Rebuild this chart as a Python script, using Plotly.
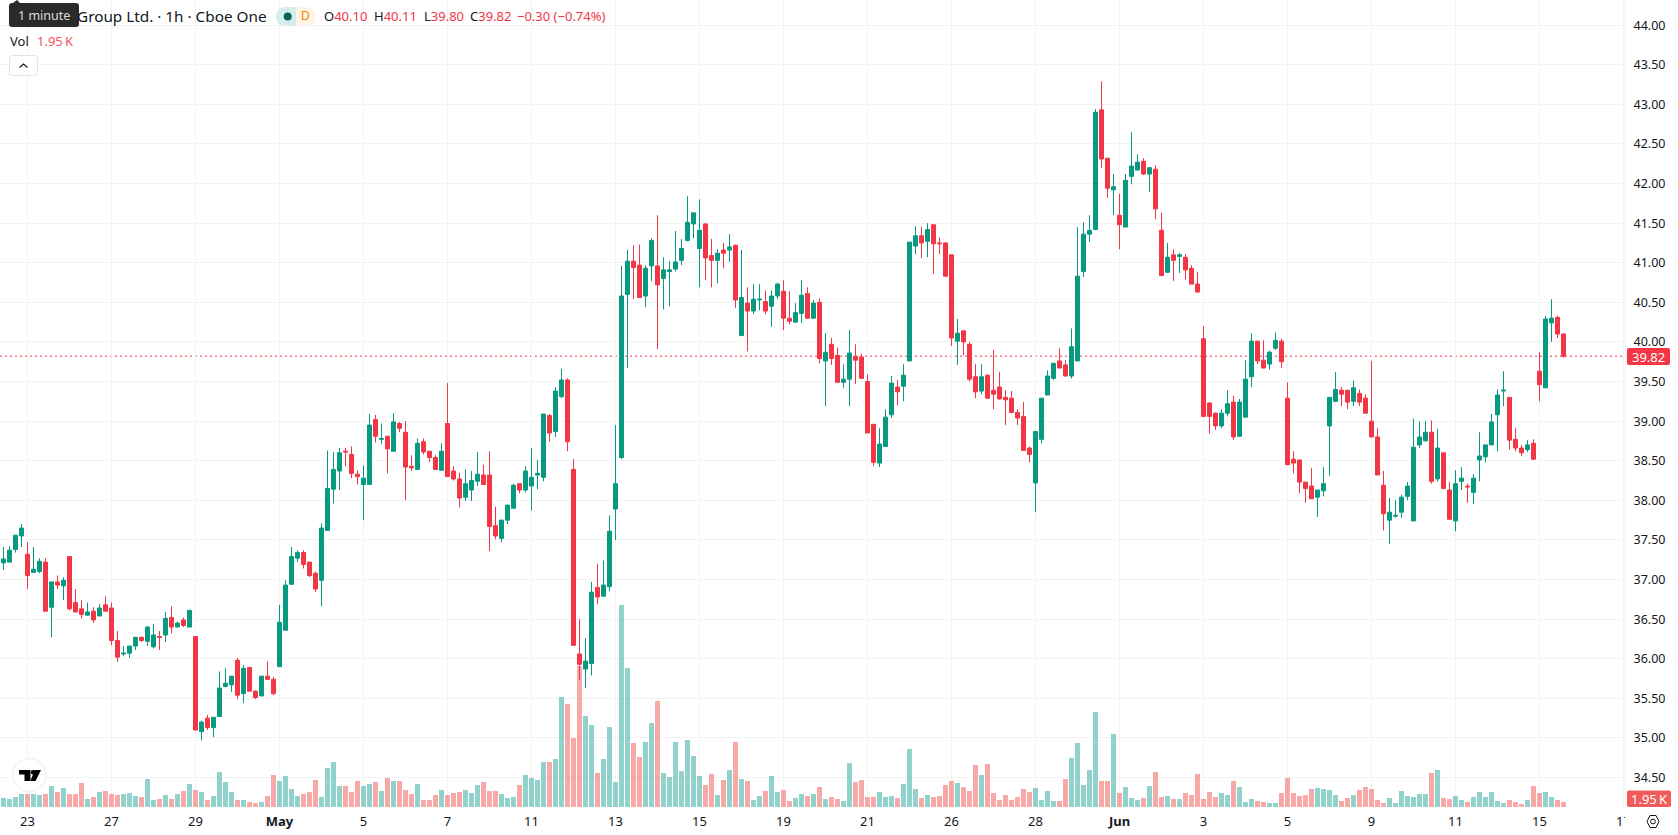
import plotly.graph_objects as go

# Hourly OHLC prices, one bar per trading hour
opens = [
    37.21,37.22,37.38,37.55,37.32,37.09,37.10,37.22,36.65,36.97,
    36.92,37.29,36.71,36.63,36.55,36.60,36.54,36.68,36.64,36.23,
    36.06,36.07,36.16,36.27,36.22,36.15,36.28,36.30,36.52,36.40,
    36.49,36.40,36.28,35.08,35.25,35.13,35.27,35.65,35.67,35.98,
    35.56,35.89,35.59,35.53,35.78,35.74,35.90,36.36,36.94,37.27,
    37.34,37.22,37.08,36.99,37.62,38.14,38.37,38.62,38.58,38.33,
    38.20,38.20,39.02,38.77,38.81,38.62,38.97,38.86,38.43,38.39,
    38.74,38.62,38.54,38.38,38.97,38.37,38.27,38.04,38.13,38.24,
    38.32,38.32,37.68,37.52,37.75,37.90,38.21,38.13,38.18,38.32,
    38.29,39.07,38.87,39.31,39.52,38.39,36.06,35.87,35.94,36.90,
    36.79,36.91,37.89,38.54,40.60,41.02,40.97,40.58,40.96,40.96,
    40.80,40.89,40.92,41.03,41.28,41.49,41.18,41.49,41.09,41.03,
    41.16,41.16,41.22,40.08,40.49,40.39,40.53,40.51,40.45,40.58,
    40.64,40.30,40.25,40.36,40.61,40.30,40.50,39.76,39.97,39.83,
    39.49,39.53,39.82,39.81,39.50,38.96,38.47,38.68,39.08,39.43,
    39.44,39.76,41.21,41.34,41.27,41.48,41.25,41.25,41.10,40.01,
    40.14,39.97,39.56,39.38,39.58,39.39,39.43,39.30,39.29,39.11,
    39.06,38.66,38.22,38.77,39.33,39.54,39.76,39.71,39.57,39.76,
    40.89,41.36,41.42,42.93,42.32,41.92,41.60,41.45,42.09,42.17,
    42.28,42.12,42.18,41.41,40.88,41.10,41.08,41.07,40.93,40.73,
    40.04,39.23,39.10,38.94,39.10,39.24,38.81,39.05,39.56,40.01,
    39.77,39.72,39.92,40.01,39.29,38.52,38.51,38.23,38.18,38.04,
    38.12,38.94,39.25,39.39,39.39,39.25,39.35,39.29,39.00,38.80,
    38.19,37.75,37.80,37.85,38.05,37.74,38.70,38.75,38.86,38.27,
    38.60,38.13,37.74,38.24,38.18,38.10,38.51,38.55,38.70,39.08,
    39.38,39.30,38.77,38.66,38.64,38.72,39.63,39.42,40.24,40.31,
    40.10,
]
highs = [
    37.41,37.42,37.56,37.70,37.47,37.41,37.27,37.27,36.97,37.05,
    37.03,37.29,36.88,36.74,36.71,36.65,36.69,36.79,36.71,36.35,
    36.16,36.16,36.27,36.28,36.41,36.44,36.35,36.59,36.66,36.47,
    36.52,36.62,36.28,35.22,35.29,35.26,35.84,35.88,35.78,36.01,
    35.92,35.89,35.60,35.78,35.97,35.77,36.68,36.99,37.41,37.37,
    37.37,37.22,37.10,37.71,38.63,38.61,38.66,38.66,38.68,38.38,
    38.44,39.09,39.08,38.97,38.81,39.10,38.99,39.00,38.57,38.78,
    38.78,38.62,38.57,38.72,39.48,38.43,38.35,38.39,38.37,38.61,
    38.45,38.62,37.92,37.75,37.94,38.21,38.21,38.43,38.66,38.51,
    39.09,39.09,39.43,39.66,39.54,38.52,36.50,36.26,36.97,37.20,
    37.24,37.81,38.95,40.96,41.16,41.22,41.23,40.97,41.31,41.60,
    41.07,41.02,41.40,41.30,41.84,41.63,41.80,41.50,41.30,41.17,
    41.25,41.36,41.23,41.16,40.69,40.73,40.73,40.65,40.65,40.75,
    40.78,40.64,40.49,40.78,40.69,40.53,40.55,40.11,40.05,39.93,
    39.72,40.15,39.97,39.85,39.59,38.96,38.91,39.15,39.57,39.52,
    39.72,41.26,41.46,41.45,41.50,41.48,41.32,41.26,41.10,40.29,
    40.14,40.00,39.72,39.72,39.59,39.90,39.62,39.39,39.38,39.15,
    39.24,38.68,38.87,39.29,39.64,39.73,39.92,39.77,40.17,41.45,
    41.51,41.60,42.94,43.29,42.32,42.12,41.87,42.12,42.65,42.37,
    42.32,42.20,42.23,41.63,41.25,41.17,41.12,41.11,40.97,40.88,
    40.20,39.24,39.11,39.15,39.39,39.32,39.28,39.77,40.11,40.01,
    40.02,39.89,40.12,40.04,39.49,38.62,38.51,38.23,38.41,38.13,
    38.42,39.30,39.62,39.43,39.39,39.51,39.40,39.34,39.76,38.91,
    38.37,38.03,38.00,38.07,38.23,39.03,39.00,39.00,39.01,38.90,
    38.60,38.23,38.38,38.42,38.21,38.33,38.86,38.70,39.09,39.40,
    39.63,39.30,38.91,38.70,38.76,38.77,39.87,40.33,40.54,40.33,
    40.11,
]
lows = [
    37.12,37.22,37.34,37.41,36.88,37.09,37.08,36.60,36.27,36.88,
    36.74,36.61,36.59,36.51,36.54,36.45,36.54,36.60,36.17,35.96,
    36.03,36.01,36.11,36.21,36.16,36.13,36.11,36.21,36.32,36.40,
    36.40,36.40,35.10,34.97,35.10,35.01,35.27,35.64,35.58,35.49,
    35.44,35.59,35.49,35.53,35.74,35.54,35.90,36.36,36.94,37.22,
    37.14,37.03,36.84,36.66,37.62,37.96,38.13,38.43,38.28,38.20,
    37.75,38.20,38.73,38.71,38.34,38.62,38.86,38.00,38.37,38.39,
    38.58,38.48,38.39,38.38,38.30,38.25,37.91,37.99,37.99,38.18,
    38.20,37.36,37.51,37.47,37.70,37.90,38.09,38.10,37.87,38.14,
    38.24,38.74,38.80,39.29,38.62,36.17,35.73,35.63,35.79,36.69,
    36.79,36.85,37.50,38.52,39.67,40.54,40.56,40.44,40.77,39.91,
    40.41,40.45,40.89,40.97,41.27,41.31,40.69,40.78,40.69,40.74,
    40.93,41.01,40.43,40.08,39.88,40.35,40.40,40.35,40.19,40.54,
    40.15,40.22,40.25,40.24,40.30,40.30,39.73,39.19,39.71,39.48,
    39.42,39.19,39.47,39.54,38.85,38.43,38.42,38.68,39.04,39.20,
    39.25,39.76,41.11,41.06,41.07,40.86,41.11,40.83,39.95,39.71,
    39.83,39.50,39.29,39.34,39.29,39.15,39.27,38.95,39.10,38.95,
    38.63,38.48,37.85,38.72,39.33,39.52,39.67,39.56,39.54,39.76,
    40.82,41.26,41.41,42.20,41.82,41.60,41.17,41.45,41.99,42.17,
    42.11,41.89,41.55,40.83,40.87,40.77,40.87,40.79,40.73,40.62,
    39.05,38.84,38.89,38.91,39.06,38.76,38.80,39.05,39.43,39.72,
    39.67,39.65,39.90,39.67,38.45,38.34,38.09,37.97,38.02,37.79,
    38.05,38.31,39.24,39.19,39.15,39.19,39.19,39.10,38.80,38.32,
    37.62,37.45,37.78,37.78,38.00,37.74,38.66,38.75,38.21,38.24,
    38.14,37.76,37.61,38.13,37.97,37.95,38.24,38.48,38.70,38.62,
    39.19,38.64,38.62,38.56,38.61,38.51,39.25,39.42,40.00,40.05,
    39.80,
]
closes = [
    37.26,37.37,37.56,37.65,37.05,37.13,37.23,36.60,36.97,36.93,
    36.99,36.63,36.59,36.56,36.59,36.49,36.64,36.60,36.23,36.02,
    36.07,36.16,36.27,36.23,36.40,36.30,36.27,36.51,36.40,36.45,
    36.42,36.61,35.10,35.20,35.13,35.26,35.63,35.69,35.78,35.54,
    35.88,35.59,35.51,35.78,35.74,35.56,36.46,36.93,37.29,37.34,
    37.19,37.05,36.88,37.65,38.15,38.39,38.60,38.61,38.34,38.30,
    38.28,38.95,38.81,38.78,38.65,38.99,38.91,38.42,38.41,38.72,
    38.61,38.54,38.39,38.62,38.30,38.27,38.03,38.21,38.25,38.33,
    38.20,37.67,37.55,37.75,37.94,38.19,38.13,38.37,38.29,38.34,
    39.09,38.85,39.38,39.52,38.74,36.17,35.93,35.97,36.84,36.78,
    36.93,37.61,38.21,40.58,41.02,40.94,40.56,40.93,41.28,40.72,
    40.91,40.91,41.01,41.18,41.51,41.63,41.41,41.06,41.03,41.12,
    41.12,41.20,40.53,40.56,40.39,40.54,40.54,40.39,40.58,40.73,
    40.30,40.26,40.37,40.59,40.30,40.49,39.79,39.87,39.79,39.49,
    39.53,39.86,39.77,39.54,38.85,38.48,38.71,39.05,39.48,39.37,
    39.58,41.26,41.34,41.25,41.42,41.24,41.24,40.83,40.05,40.11,
    40.00,39.53,39.37,39.56,39.29,39.34,39.28,39.27,39.11,39.04,
    38.63,38.58,38.87,39.29,39.57,39.73,39.67,39.57,39.94,40.83,
    41.36,41.41,42.90,42.31,41.94,41.96,41.48,42.04,42.22,42.27,
    42.12,42.20,41.68,40.84,41.07,41.03,41.10,40.91,40.73,40.63,
    39.06,39.06,38.94,39.10,39.22,38.80,39.24,39.53,40.01,39.76,
    39.67,39.87,40.02,39.75,38.45,38.47,38.23,38.15,38.02,38.13,
    38.21,39.30,39.40,39.34,39.24,39.42,39.24,39.10,38.80,38.32,
    37.83,37.85,37.81,38.04,38.18,38.67,38.80,38.86,38.24,38.66,
    38.15,37.76,38.21,38.28,38.17,38.28,38.56,38.70,38.99,39.33,
    39.39,38.76,38.66,38.60,38.70,38.52,39.46,40.29,40.30,40.10,
    39.82,
]
# Traded volume per bar, in thousands of shares
volumes = [
    3.51,3.12,3.90,5.07,5.07,5.07,4.68,5.07,8.19,5.85,
    7.41,5.07,5.07,9.36,3.12,3.90,5.85,6.24,5.07,4.68,
    5.07,5.46,4.29,3.90,10.92,2.73,3.12,4.68,3.12,5.07,
    6.24,8.97,6.63,5.85,2.73,4.29,13.65,9.75,5.85,2.73,
    2.73,1.95,1.56,1.95,4.29,12.48,10.14,12.09,7.02,4.29,
    5.07,5.85,10.53,3.90,15.21,17.55,8.19,8.19,5.85,10.14,
    8.19,8.97,9.75,6.24,11.31,10.14,10.14,6.63,5.07,8.97,
    2.73,2.73,4.68,6.63,4.68,5.46,5.85,6.63,5.46,8.58,
    9.75,6.24,6.24,5.07,3.51,3.90,8.58,12.48,11.31,10.53,
    17.55,17.55,18.72,42.90,40.17,26.91,55.00,35.49,31.98,13.26,
    18.72,31.20,9.75,78.80,54.20,24.96,19.50,25.35,32.76,41.34,
    13.26,11.70,25.35,14.04,26.13,19.89,12.09,8.58,12.87,4.68,
    10.53,14.43,25.35,10.92,10.14,2.73,4.29,6.24,12.09,5.85,
    6.63,2.34,3.51,5.07,4.29,5.07,7.80,3.12,3.90,3.12,
    2.34,17.16,9.75,10.53,3.90,3.90,5.85,3.90,4.29,3.51,
    8.97,22.62,7.02,3.51,4.68,3.90,4.29,8.58,10.14,9.36,
    7.80,6.24,16.38,12.48,16.77,5.46,2.73,4.68,2.73,3.90,
    7.02,5.85,7.41,2.73,6.24,2.34,2.34,10.92,19.11,24.96,
    8.58,14.43,37.05,10.14,10.14,28.47,5.46,7.80,3.51,2.73,
    3.51,8.19,13.65,3.90,4.29,3.12,3.12,5.46,4.68,12.87,
    3.12,5.85,3.90,5.46,4.68,10.14,7.80,1.95,3.12,2.34,
    1.95,1.56,1.56,5.46,11.31,5.46,4.29,4.68,7.02,7.41,
    7.02,6.63,4.68,2.34,3.51,4.68,6.63,7.80,7.02,2.73,
    1.56,3.51,1.56,6.24,4.29,3.90,5.07,5.07,13.26,14.43,
    3.51,3.12,4.29,2.73,1.95,3.90,5.85,3.90,5.85,2.34,
    1.56,2.73,1.95,1.17,2.73,8.19,5.46,5.85,3.90,2.73,
    1.95,
]

# Time axis labels and the bars they sit on
date_positions = [4, 18, 32, 46, 60, 74, 88, 102, 116, 130, 144, 158, 172, 186,
                  200, 214, 228, 242, 256, 270]
date_labels = ["23", "27", "29", "<b>May</b>", "5", "7", "11", "13", "15", "19",
               "21", "26", "28", "<b>Jun</b>", "3", "5", "9", "11", "15", "17"]
price_ticks = [34.5 + 0.5 * k for k in range(20)]

UP = "#089981"
DOWN = "#F23645"
VOL_UP = "rgba(38,166,154,0.5)"
VOL_DOWN = "rgba(239,83,80,0.5)"
INK = "#131722"
GRID = "#F2F2F2"
FONT = "Noto Sans"

WIDTH, HEIGHT = 1678, 835
PANE_W, PANE_H = 1625, 807


def px(x):
    return x / PANE_W


def py(y):
    return 1 - y / PANE_H


def pt(x, y):
    return f"{px(x):.6f} {py(y):.6f}"


def rounded(x0, y0, x1, y1, r):
    return (f"M {pt(x0 + r, y0)} L {pt(x1 - r, y0)} Q {pt(x1, y0)} {pt(x1, y0 + r)} "
            f"L {pt(x1, y1 - r)} Q {pt(x1, y1)} {pt(x1 - r, y1)} "
            f"L {pt(x0 + r, y1)} Q {pt(x0, y1)} {pt(x0, y1 - r)} "
            f"L {pt(x0, y0 + r)} Q {pt(x0, y0)} {pt(x0 + r, y0)} Z")


def poly(points):
    return "M " + " L ".join(pt(x, y) for x, y in points) + " Z"


def box(path, fill, line=None, width=0):
    return dict(type="path", xref="paper", yref="paper", path=path, fillcolor=fill,
                line=dict(color=line or fill, width=width), layer="above")


def disc(cx, cy, r, fill, line=None, width=0):
    return dict(type="circle", xref="paper", yref="paper",
                x0=px(cx - r), x1=px(cx + r), y0=py(cy + r), y1=py(cy - r),
                fillcolor=fill, line=dict(color=line or fill, width=width), layer="above")


def text(s, x, y, color=INK, size=14, anchor="left"):
    return dict(text=s, xref="paper", yref="paper", x=px(x), y=py(y), xanchor=anchor,
                yanchor="middle", showarrow=False, font=dict(family=FONT, size=size, color=color))


bar_index = list(range(len(closes)))
vol_colors = [VOL_UP if c >= o else VOL_DOWN for o, c in zip(opens, closes)]
last_close = closes[-1]
last_volume = volumes[-1]

fig = go.Figure()
fig.add_trace(go.Bar(x=bar_index, y=volumes, marker=dict(color=vol_colors, line_width=0),
                     yaxis="y", hoverinfo="skip"))
fig.add_trace(go.Candlestick(
    x=bar_index, open=opens, high=highs, low=lows, close=closes, yaxis="y2",
    increasing=dict(line=dict(color=UP, width=1), fillcolor=UP),
    decreasing=dict(line=dict(color=DOWN, width=1), fillcolor=DOWN),
    whiskerwidth=0, hoverinfo="skip",
))

shapes = [
    # last-price line
    dict(type="line", xref="paper", yref="y2", x0=0, x1=1, y0=last_close, y1=last_close,
         line=dict(color=DOWN, width=1, dash="2px,3px"), layer="below"),
    # tooltip over the legend
    box(rounded(9, 3, 79, 27, 3), "#2A2A2A"),
    box(poly([(13, 3), (17, 0), (20, 3)]), "#2A2A2A"),
    # market status pill
    box(f"M {pt(296, 7)} L {pt(286, 7)} Q {pt(276, 7)} {pt(276, 16.5)} "
        f"Q {pt(276, 26)} {pt(286, 26)} L {pt(296, 26)} Z", "#D6EEEA"),
    box(f"M {pt(296, 7)} L {pt(306, 7)} Q {pt(316, 7)} {pt(316, 16.5)} "
        f"Q {pt(316, 26)} {pt(306, 26)} L {pt(296, 26)} Z", "#FFF4E6"),
    disc(287.7, 16.5, 4, "#056656"),
    # collapse button
    box(rounded(9.5, 55.5, 37.5, 75.5, 3), "#FFFFFF", "#E0E3EB", 1),
    dict(type="path", xref="paper", yref="paper",
         path=f"M {pt(19.5, 67.5)} L {pt(23.5, 64)} L {pt(27.5, 67.5)}",
         line=dict(color=INK, width=1.2), layer="above"),
    # logo badge
    disc(29.3, 775, 16.5, "#FFFFFF", "#F0F3FA", 1.5),
    box(poly([(19, 770), (30.5, 770), (30.5, 781), (24.5, 781), (24.5, 774.5), (19, 774.5)]), "#000000"),
    disc(33, 772.2, 2.2, "#000000"),
    box(poly([(34.5, 770), (41, 770), (35.5, 781), (30.5, 781)]), "#000000"),
    # last-value tags on the price scale
    box(rounded(1627, 348, 1670, 365, 2), DOWN),
    box(rounded(1627, 790.5, 1671, 807, 2), "#F15B59"),
    # time-scale corner, with the settings glyph
    dict(type="rect", xref="paper", yref="paper", x0=px(1625), x1=px(1678), y0=py(835), y1=py(807),
         fillcolor="#FFFFFF", line=dict(width=0), layer="above"),
    dict(type="path", xref="paper", yref="paper",
         path=poly([(1647, 821.5), (1650, 815.5), (1656, 815.5), (1659, 821.5), (1656, 827.5), (1650, 827.5)]),
         line=dict(color=INK, width=1), layer="above"),
    disc(1653, 821.5, 2.4, "#FFFFFF", INK, 1),
]

annotations = [
    text("1 minute", 44, 15.5, "#DDDDDD", 12.5, "center"),
    text("Group Ltd. · 1h · Cboe One", 269, 16, INK, 15.3, "right"),
    text("D", 305.7, 16, "#F57C00", 12, "center"),
    text(f'<span style="color:{INK}">O</span>{opens[-1]:.2f}', 322, 16, DOWN, 13),
    text(f'<span style="color:{INK}">H</span>{highs[-1]:.2f}', 371.5, 16, DOWN, 13),
    text(f'<span style="color:{INK}">L</span>{lows[-1]:.2f}', 421.5, 16, DOWN, 13),
    text(f'<span style="color:{INK}">C</span>{last_close:.2f}', 467.5, 16, DOWN, 13),
    text("−0.30 (−0.74%)", 515, 16, DOWN, 13),
    text("Vol", 7.5, 41, INK, 13),
    text(f"{last_volume:.2f}\u2009K", 35, 41, "#F7525F", 13),
    text(f"{last_close:.2f}", 1648.5, 356.5, "#FFFFFF", 13, "center"),
    text(f"{last_volume:.2f}\u2009K", 1649, 798.5, "#FFFFFF", 13, "center"),
]

fig.update_layout(
    width=WIDTH, height=HEIGHT,
    margin=dict(l=0, r=WIDTH - PANE_W, t=0, b=HEIGHT - PANE_H, pad=0),
    paper_bgcolor="#FFFFFF", plot_bgcolor="#FFFFFF",
    showlegend=False, bargap=0.167, boxgap=0.33, boxgroupgap=0,
    font=dict(family=FONT, size=12, color=INK),
    xaxis=dict(
        range=[-3.5 / 6, (PANE_W - 3.5) / 6], tickmode="array",
        tickvals=date_positions, ticktext=date_labels, tickangle=0,
        showgrid=True, gridcolor=GRID, gridwidth=1, zeroline=False, showline=False,
        rangeslider=dict(visible=False), ticks="outside", ticklen=2, tickcolor="rgba(0,0,0,0)",
        tickfont=dict(family=FONT, size=13, color=INK), fixedrange=True,
    ),
    yaxis=dict(range=[0, PANE_H * 0.39], visible=False, showgrid=False, zeroline=False, fixedrange=True),
    yaxis2=dict(
        overlaying="y", side="right",
        range=[43 - (PANE_H - 104.33) / 79.2, 43 + 104.33 / 79.2],
        autorange=False, tickmode="array", tickvals=price_ticks,
        ticktext=[f"{p:.2f}" for p in price_ticks],
        showgrid=True, gridcolor=GRID, gridwidth=1, zeroline=False,
        showline=True, linecolor="#F0F3FA", linewidth=1,
        ticks="outside", ticklen=5, tickcolor="rgba(0,0,0,0)",
        tickfont=dict(family=FONT, size=12.5, color=INK), fixedrange=True,
    ),
    shapes=shapes, annotations=annotations,
)

fig.write_html("out.html", config=dict(displayModeBar=False))
